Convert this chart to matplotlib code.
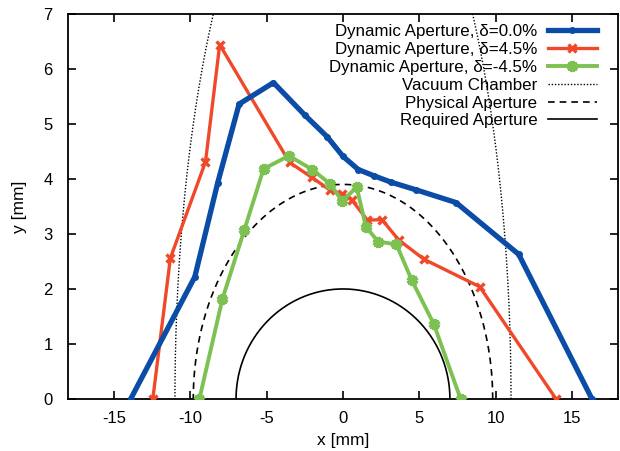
import numpy as np
import matplotlib
matplotlib.use("Agg")
import matplotlib.pyplot as plt

plt.rcParams['font.family'] = ['Liberation Sans', 'DejaVu Sans']
plt.rcParams['axes.unicode_minus'] = False

# dynamic aperture, delta = 0.0%
x_d0 = [-13.9, -9.7, -8.2, -6.8, -4.55, -2.5, -1.05, 0.0, 1.0, 2.0, 3.15, 4.8, 7.4, 11.5, 16.3]
y_d0 = [0.0, 2.22, 3.93, 5.36, 5.75, 5.16, 4.77, 4.41, 4.17, 4.06, 3.94, 3.80, 3.57, 2.63, 0.0]

# delta = +4.5%
x_dp = [-12.45, -11.3, -9.0, -8.07, -3.5, -2.05, -0.87, -0.04, 0.6, 1.6, 2.55, 3.65, 5.3, 8.95, 13.95]
y_dp = [0.0, 2.56, 4.31, 6.44, 4.3, 4.03, 3.8, 3.73, 3.61, 3.25, 3.26, 2.89, 2.54, 2.04, 0.0]

# delta = -4.5%
x_dm = [-9.4, -7.9, -6.45, -5.2, -3.55, -2.0, -0.85, -0.05, 0.9, 1.5, 2.3, 3.5, 4.5, 5.95, 7.7]
y_dm = [0.0, 1.81, 3.08, 4.18, 4.42, 4.17, 3.91, 3.6, 3.85, 3.13, 2.86, 2.81, 2.16, 1.36, 0.0]

# apertures (semi axes in mm)
vac_a, vac_b = 11.0, 11.0
phys_a, phys_b = 9.8, 3.9
req_a, req_b = 7.0, 2.0

fig = plt.figure(figsize=(6.2, 4.51), dpi=100)
ax = fig.add_axes([0.1097, 0.1153, 0.887, 0.854])

th = np.linspace(0, np.pi, 400)

ax.plot(x_d0, y_d0, color='#0a4ca6', lw=3.8, marker='o', ms=4,
        label='Dynamic Aperture, δ=0.0%', zorder=5)
ax.plot(x_dp, y_dp, color='#f0492a', lw=2.4, marker='x', ms=6, mew=2.4,
        label='Dynamic Aperture, δ=4.5%', zorder=4)
ax.plot(x_dm, y_dm, color='#7cc152', lw=2.8, marker=(6, 2, 0), ms=8, mew=3.0,
        label='Dynamic Aperture, δ=-4.5%', zorder=4)
ax.plot(vac_a * np.cos(th), vac_b * np.sin(th), color='black', lw=1.0,
        ls=(0, (1, 1.3)), label='Vacuum Chamber')
ax.plot(phys_a * np.cos(th), phys_b * np.sin(th), color='black', lw=1.2,
        ls=(0, (4, 3)), label='Physical Aperture')
ax.plot(req_a * np.cos(th), req_b * np.sin(th), color='black', lw=1.2,
        label='Required Aperture')

ax.set_xlim(-18, 18)
ax.set_ylim(0, 7)
ax.set_xticks([-15, -10, -5, 0, 5, 10, 15])
ax.set_yticks(range(8))
ax.tick_params(direction='in', length=6, width=1.2, top=True, right=True,
               labelsize=12)
ax.tick_params(axis='x', pad=9)
ax.tick_params(axis='y', pad=11)
for s in ax.spines.values():
    s.set_linewidth(1.3)

ax.set_xlabel('x [mm]', fontsize=12.5, labelpad=5)
ax.set_ylabel('y [mm]', fontsize=12.5, labelpad=12)

leg = ax.legend(loc='upper right', frameon=False, markerfirst=False,
                fontsize=12.2, handlelength=2.9, labelspacing=0.17,
                handletextpad=0.6, borderaxespad=0.2,
                bbox_to_anchor=(0.98, 1.0))

fig.savefig('out.png', dpi=100)
